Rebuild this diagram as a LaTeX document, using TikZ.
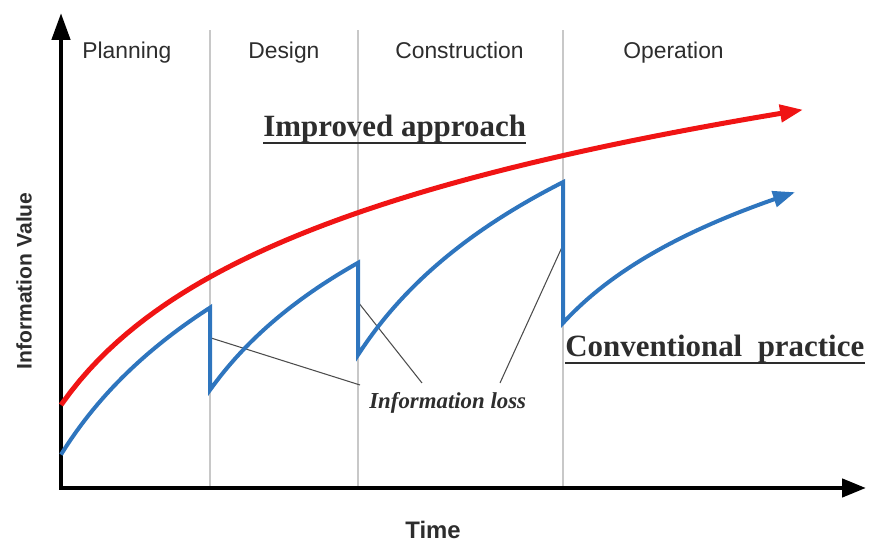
\documentclass[tikz,border=0pt]{standalone}
\usepackage{fontspec}
\setmainfont{Liberation Serif}
\setsansfont{Liberation Sans}
\usepackage{tikz}
\usetikzlibrary{arrows.meta,positioning}
\definecolor{improvedred}{RGB}{240,20,20}
\definecolor{conventionalblue}{RGB}{46,117,190}
\definecolor{phasegrey}{RGB}{200,200,200}
\definecolor{darktext}{RGB}{45,45,45}

\begin{document}
\begin{tikzpicture}[x=0.02cm,y=0.02cm,
  axisline/.style={line width=0.09cm,line join=miter,
    {Triangle[length=0.54cm,width=0.36cm]}-{Triangle[length=0.48cm,width=0.36cm]}},
  phasesep/.style={phasegrey,line width=0.7pt},
  phaselabel/.style={anchor=base west,inner sep=0pt,text=darktext,
    font=\sffamily\fontsize{13}{15}\selectfont},
  curvetitle/.style={anchor=base west,inner sep=0pt,text=darktext,
    font=\bfseries\fontsize{17.6}{20}\selectfont},
  leader/.style={black!70,line width=0.6pt},
  improved/.style={improvedred,line width=0.1cm,-{Triangle[length=0.46cm,width=0.34cm]}},
  conventional/.style={conventionalblue,line width=0.08cm,line join=miter,
    -{Triangle[length=0.44cm,width=0.32cm]}}
]
\useasboundingbox (0,0) rectangle (872,543);

% phase borders
\foreach \xsep in {210,358,563}
  \draw[phasesep] (\xsep,55) -- (\xsep,513);

% axes
\coordinate (origin) at (61,55);
\coordinate (ytop) at (61,530);
\coordinate (xend) at (866,55);
\draw[axisline] (ytop) -- (origin) -- (xend);
\node[rotate=90,font=\sffamily\bfseries\fontsize{12}{14}\selectfont,text=darktext] (yname) at (24,262) {Information Value};
\node[anchor=base west,inner sep=0pt,font=\sffamily\bfseries\fontsize{13.6}{16}\selectfont,text=darktext] (xname) at (405,4) {Time};

% phases
\node[phaselabel] (planning) at (82,484) {Planning};
\node[phaselabel] (design) at (248,484) {Design};
\node[phaselabel] (construction) at (395,484) {Construction};
\node[phaselabel] (operation) at (623,484) {Operation};

% information loss
\node[anchor=base west,inner sep=0pt,text=darktext,
  font=\bfseries\itshape\fontsize{13}{15}\selectfont] (loss) at (369,134) {Information loss};
\coordinate (cut1) at (211,205);
\coordinate (cut2) at (358,241);
\coordinate (cut3) at (563,298);
\coordinate (tip1) at (360,158);
\coordinate (tip2) at (422,160);
\coordinate (tip3) at (500,160);
\draw[leader] (cut1) -- (tip1);
\draw[leader] (cut2) -- (tip2);
\draw[leader] (cut3) -- (tip3);

% curves
\draw[improved] plot[domain=61:803,samples=80] (\x,{138+135.7*ln(1+(\x-61)/95)});
\draw[conventional]
  plot[domain=61:210,samples=30] (\x,{90+160*ln(1+(\x-62)/100)})
  -- plot[domain=210:358,samples=30] (\x,{153+140*ln(1+(\x-210)/100)})
  -- plot[domain=358:563,samples=40] (\x,{188+155*ln(1+(\x-358)/100)})
  -- plot[domain=563:795,samples=40] (\x,{220+109*ln(1+(\x-563)/100)});

% titles
\node[curvetitle] (improvedtitle) at (263,406) {Improved approach};
\draw[darktext,line width=1pt] ([yshift=-3.3pt]improvedtitle.base west) -- ([yshift=-3.3pt]improvedtitle.base east);
\node[curvetitle] (conventionaltitle) at (565,186) {Conventional\ \ practice};
\draw[darktext,line width=1pt] ([yshift=-3.3pt]conventionaltitle.base west) -- ([yshift=-3.3pt]conventionaltitle.base east);
\end{tikzpicture}
\end{document}
